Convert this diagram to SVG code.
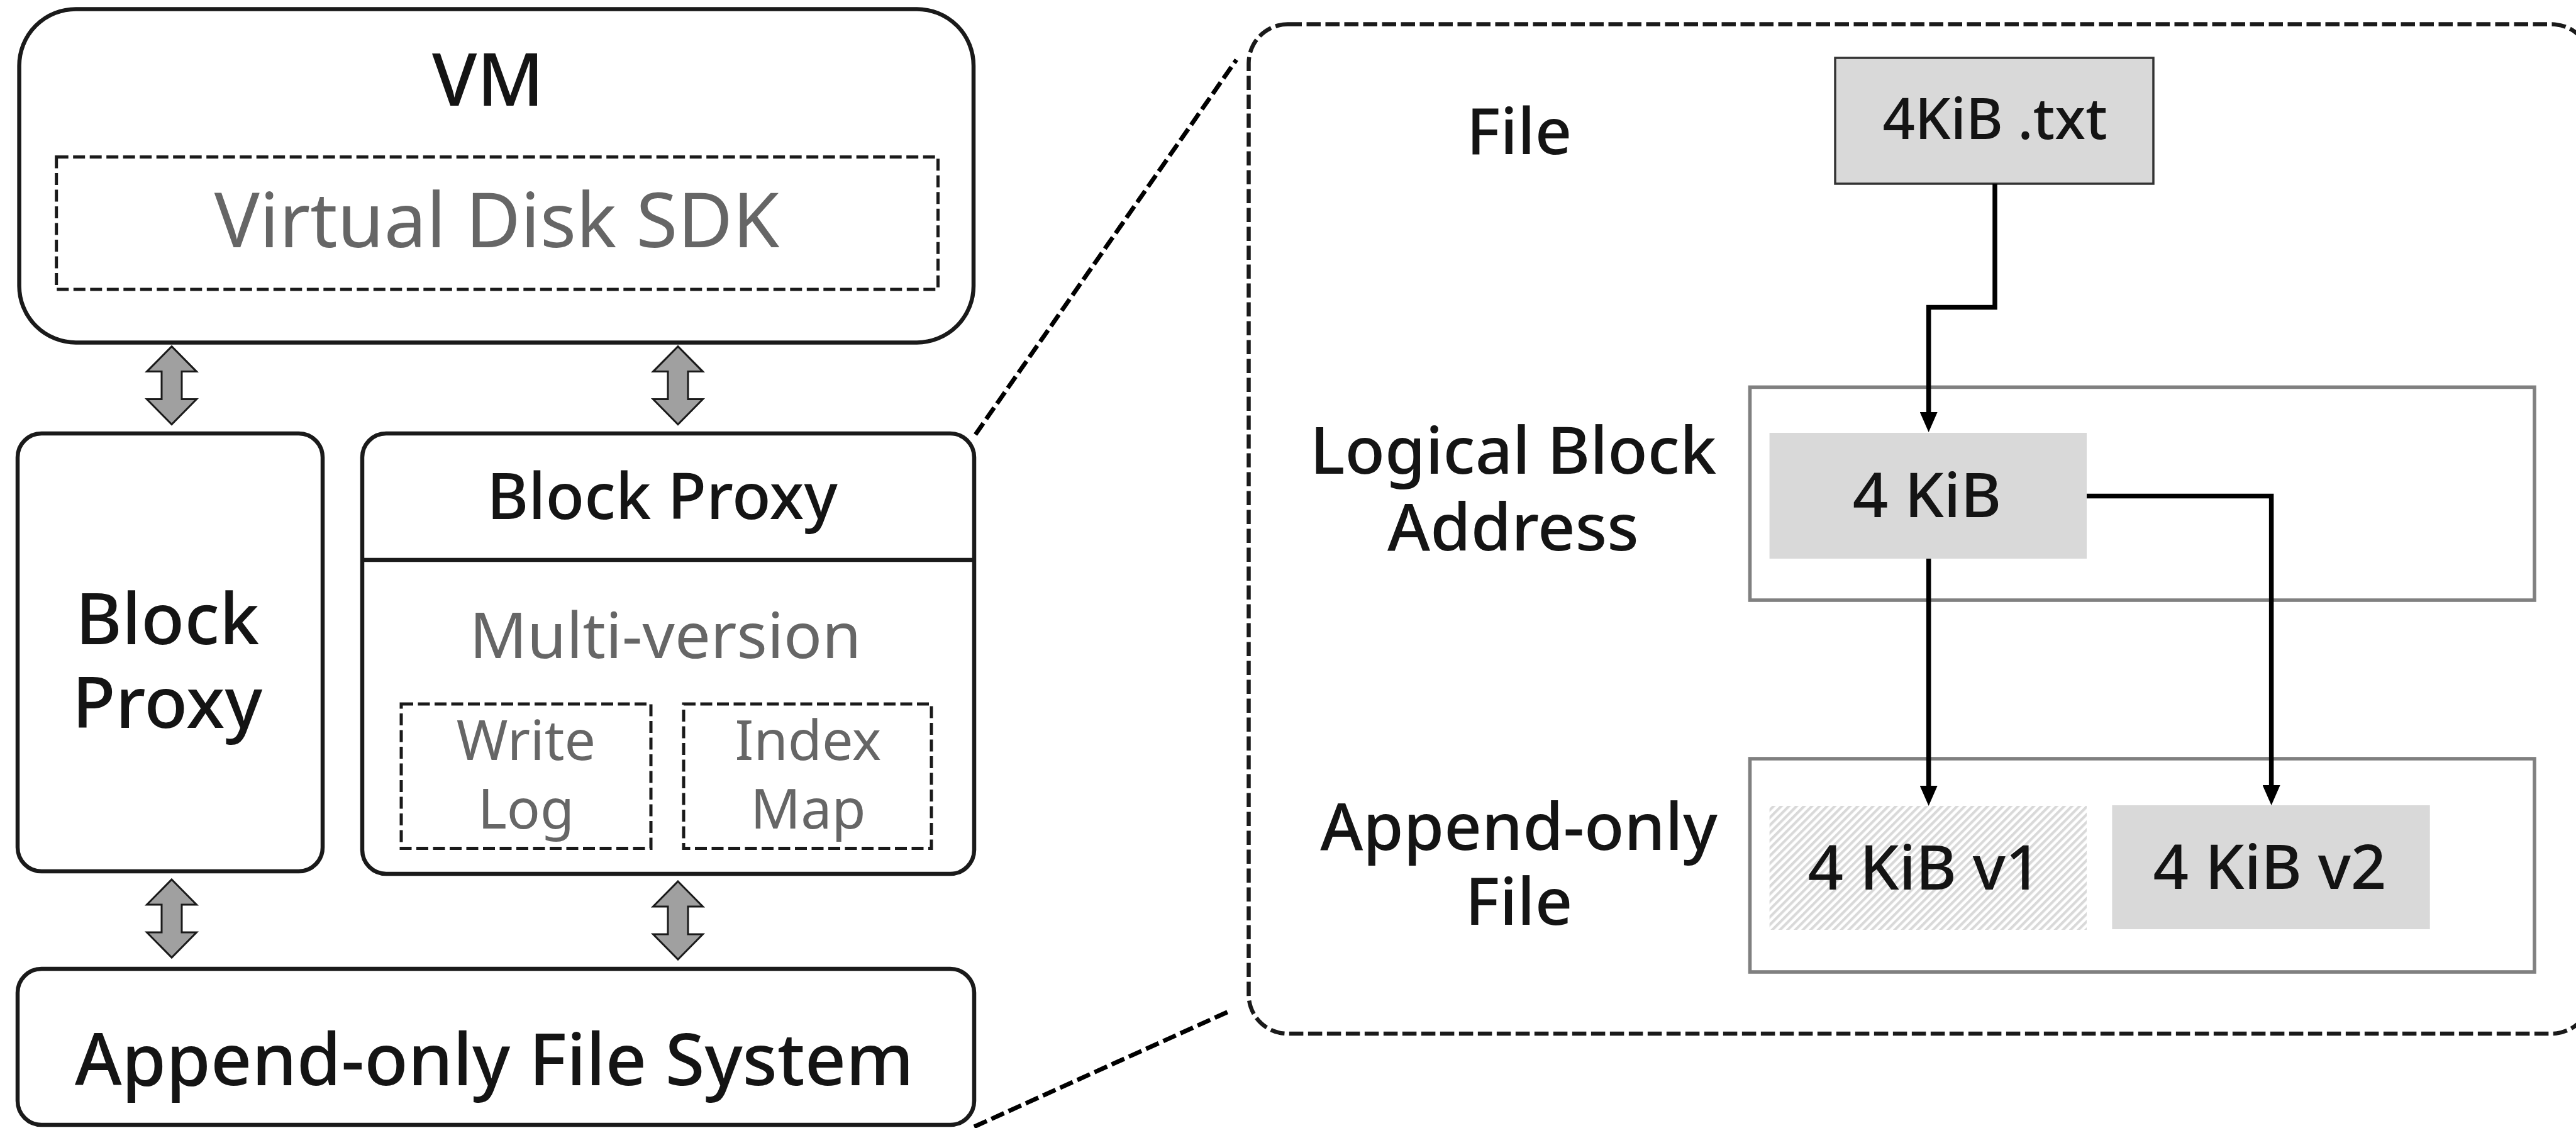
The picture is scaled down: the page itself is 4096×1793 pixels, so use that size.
<svg xmlns="http://www.w3.org/2000/svg" width="4096" height="1793" viewBox="0 0 4096 1793">
<style>
text { font-family: "Noto Sans", "Open Sans", "Liberation Sans", sans-serif; fill: #141414; text-anchor: middle; font-weight: 500; }
.box { fill: #fff; stroke: #1a1a1a; stroke-width: 6.5; }
.dash { fill: none; stroke: #1a1a1a; stroke-width: 5; stroke-dasharray: 19 7.5; }
.gray { fill: #666; font-weight: 400; }
.grp { fill: #fff; stroke: #808080; stroke-width: 5.6; }
.blk { fill: #d9d9d9; }
.conn { fill: none; stroke: #000; stroke-width: 7.5; }
.callout { fill: none; stroke: #000; stroke-width: 7; stroke-dasharray: 22 8; }
.darr { fill: #a0a0a0; stroke: #1a1a1a; stroke-width: 3; }
</style>
<defs>
<marker id="ah" markerWidth="32" markerHeight="28" refX="16" refY="14" orient="auto" markerUnits="userSpaceOnUse">
<path d="M0,0 L32,14 L0,28 z" fill="#000"/>
</marker>
<pattern id="hatch" patternUnits="userSpaceOnUse" width="8.6" height="8.6" patternTransform="rotate(45)">
<rect width="8.6" height="8.6" fill="#fff"/>
<rect width="4.2" height="8.6" fill="#d9d9d9"/>
</pattern>
<path id="darrow" class="darr" d="M0,-62 L39.5,-22 L16,-22 L16,22 L39.5,22 L0,62 L-39.5,22 L-16,22 L-16,-22 L-39.5,-22 Z"/>
</defs>
<rect width="4096" height="1793" fill="#fff"/>

<g id="vm">
<rect class="box" x="30.6" y="14.4" width="1517.4" height="530" rx="90"/>
<text x="776" y="168" font-size="116" font-weight="700">VM</text>
<rect class="dash" x="89.7" y="249.5" width="1401.8" height="210.5"/>
<text class="gray" x="790" y="393" font-size="120">Virtual Disk SDK</text>
</g>

<g id="block-proxy-left">
<rect class="box" x="28" y="689" width="485" height="696" rx="38"/>
<text x="266" y="1024" font-size="113">Block</text>
<text x="266" y="1157" font-size="113">Proxy</text>
</g>

<g id="block-proxy-right">
<rect class="box" x="576" y="689" width="973" height="700" rx="38"/>
<line x1="576" y1="890" x2="1549" y2="890" stroke="#1a1a1a" stroke-width="6.5"/>
<text x="1053" y="825" font-size="101">Block Proxy</text>
<text class="gray" x="1058" y="1045.5" font-size="101">Multi-version</text>
</g>

<g id="write-log">
<rect class="dash" x="638" y="1119" width="397" height="229.5" stroke-width="4.5"/>
<text class="gray" x="836.5" y="1208" font-size="88">Write</text>
<text class="gray" x="836.5" y="1316.5" font-size="88">Log</text>
</g>

<g id="index-map">
<rect class="dash" x="1087" y="1119" width="394" height="229.5" stroke-width="4.5"/>
<text class="gray" x="1285" y="1208" font-size="88">Index</text>
<text class="gray" x="1285" y="1316.5" font-size="88">Map</text>
</g>

<g id="append-only-fs">
<rect class="box" x="28" y="1540" width="1521" height="248" rx="38"/>
<text x="786" y="1725" font-size="114">Append-only File System</text>
</g>

<g id="detail-panel">
<rect fill="none" stroke="#1a1a1a" stroke-width="6.5" stroke-dasharray="22.5 7.5" x="1985.5" y="38.6" width="2134" height="1604.4" rx="62"/>
<text x="2415.5" y="244.7" font-size="102">File</text>
<text x="2406" y="753" font-size="104">Logical Block</text>
<text x="2406" y="874.7" font-size="104">Address</text>
<text x="2415" y="1351" font-size="104">Append-only</text>
<text x="2415" y="1470.4" font-size="104">File</text>
</g>

<g id="file-txt">
<rect x="2918" y="92" width="506" height="200" fill="#d9d9d9" stroke="#333" stroke-width="3.5"/>
<text x="3172" y="221" font-size="90">4KiB .txt</text>
</g>

<g id="lba">
<rect class="grp" x="2782.5" y="615.4" width="1247.5" height="338.6"/>
<rect class="blk" x="2813.6" y="688" width="504.4" height="200"/>
<text x="3064" y="822" font-size="99">4 KiB</text>
</g>

<g id="aof">
<rect class="grp" x="2782.5" y="1206" width="1247.5" height="339"/>
<rect x="2813.6" y="1281" width="504.4" height="197" fill="url(#hatch)"/>
<text x="3060" y="1414" font-size="99">4 KiB v1</text>
<rect class="blk" x="3358.4" y="1280" width="505.3" height="197"/>
<text x="3609" y="1413" font-size="99">4 KiB v2</text>
</g>

<g id="connectors">
<use href="#darrow" x="273" y="612.6"/>
<use href="#darrow" x="1078" y="612.6"/>
<use href="#darrow" x="273" y="1460"/>
<use href="#darrow" x="1078" y="1463"/>
<path class="conn" d="M3172,292 V488.4 H3066.7 V671" marker-end="url(#ah)"/>
<path class="conn" d="M3066.7,888 V1265" marker-end="url(#ah)"/>
<path class="conn" d="M3318,788.6 H3611.6 V1264" marker-end="url(#ah)"/>
<path class="callout" d="M1551,690.7 L1966,95"/>
<path class="callout" d="M1549,1791 L1955.4,1607"/>
</g>
</svg>
